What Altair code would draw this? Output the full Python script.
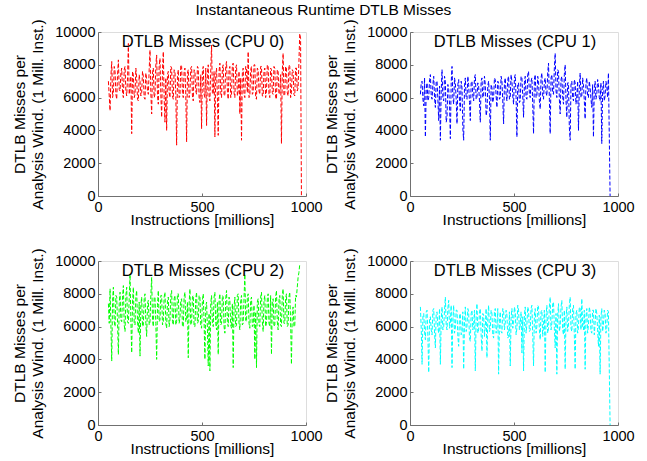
import altair as alt
import pandas as pd

# Samples: "a" arrays at x = 50, 58, 66, ... ; "b" arrays at x = 54, 62, 70, ... (millions of instr.)
XA_START, XB_START, X_STEP = 50, 54, 8

cpu0_a = [7000, 5200, 8200, 6300, 7600, 5900, 8300, 6400, 7800, 6000, 7900, 6100, 9300, 6600, 3800, 7400,
          6200, 7200, 5800, 7000, 6300, 7300, 5900, 7100, 6200, 8900, 5000, 7800, 6200, 8600, 5600, 8400,
          4800, 8800, 4500, 4000, 7600, 6000, 7800, 5900, 7600, 3100, 7700, 6100, 7900, 6000, 7800, 3300,
          7700, 6300, 7900, 5800, 7600, 6200, 7800, 5700, 4100, 7900, 6000, 4300, 8000, 5800, 9200, 6200,
          3600, 7800, 3700, 8100, 6000, 8000, 6100, 8200, 5900, 7900, 6200, 8100, 6000, 8000, 6400, 5000,
          3400, 7800, 6000, 7800, 8800, 6100, 7900, 6300, 8000, 5900, 7700, 6200, 7900, 6100, 7800, 6400,
          7900, 6000, 7700, 6200, 7800, 5900, 7600, 6300, 3200, 8700, 6200, 7800, 6100, 7900, 6300, 7600,
          6100, 7800, 6600, 9900, 0]
cpu0_b = [6100, 7300, 6000, 7900, 6200, 7400, 6500, 7500, 6300, 7700, 6400, 7200, 6200, 7300, 7600, 6000,
          7800, 5900, 7400, 6100, 7600, 6000, 7500, 6400, 7700, 6300, 7600, 6000, 8000, 6100, 7900, 6200,
          7700, 6000, 7200, 7400, 6300, 7900, 6100, 7700, 6200, 7300, 6000, 8000, 6300, 7600, 6200, 7500,
          6000, 7800, 6100, 7700, 6400, 7900, 6000, 7400, 7600, 6200, 7800, 7500, 6100, 7700, 6300, 7600,
          7400, 6000, 7600, 6300, 7800, 6200, 7900, 6400, 7700, 6000, 8000, 6300, 7800, 6100, 7600, 7200,
          7500, 6200, 7900, 6300, 6000, 7700, 6200, 8000, 6000, 7800, 6400, 7900, 6100, 7600, 6000, 8000,
          6200, 7800, 6300, 7900, 6000, 7700, 6200, 7400, 7600, 6100, 7900, 6300, 8000, 6000, 7700, 6200,
          7800, 6400, 8200, 9600]

cpu1_a = [6200, 7000, 5500, 3600, 6900, 6000, 7400, 5900, 7300, 5400, 7000, 4600, 3400, 7700, 5800, 7000,
          4800, 6500, 3500, 7900, 5600, 6900, 4400, 7100, 5200, 6600, 3400, 7200, 5900, 6800, 4600, 7000,
          5800, 7400, 6000, 6700, 4500, 7200, 6100, 6800, 5200, 7000, 3400, 6600, 6000, 7100, 5400, 6900,
          6000, 7000, 4400, 7200, 5800, 7300, 6000, 7000, 5600, 7400, 3600, 6900, 5800, 7200, 4800, 7300,
          5900, 7600, 6000, 7200, 3800, 7400, 6100, 7000, 5300, 7500, 5900, 7200, 6100, 8100, 3800, 7400,
          6200, 8700, 6000, 7600, 5000, 7300, 5600, 8000, 4800, 6900, 3400, 7000, 5800, 6900, 6100, 4000,
          7500, 6100, 6800, 4700, 7200, 6000, 6600, 5400, 3600, 7000, 6200, 6800, 5800, 3200, 7000, 6100,
          6700, 7500, 0]
cpu1_b = [6900, 5900, 7200, 6500, 5800, 7100, 6100, 6800, 6000, 7000, 5900, 6700, 6400, 6000, 7300, 4500,
          6800, 5600, 6900, 6000, 7200, 5900, 6800, 5800, 7000, 4100, 6700, 6000, 7300, 5700, 6900, 6100,
          7200, 5900, 6900, 5800, 7000, 6000, 7300, 4900, 6700, 5900, 6800, 5700, 7200, 6100, 7000, 5900,
          7300, 5800, 6900, 6200, 7100, 5900, 7400, 6100, 7200, 6000, 6800, 5700, 7300, 6100, 6900, 6000,
          7400, 6200, 7000, 5600, 7100, 6000, 7300, 5800, 7200, 6100, 7000, 6300, 7500, 5900, 7200, 6300,
          7800, 6400, 7700, 5900, 7100, 6000, 7400, 5800, 6900, 4200, 6800, 6000, 7100, 5600, 7000, 6600,
          6000, 7200, 5800, 6900, 6100, 7000, 5900, 6800, 6500, 5900, 7100, 6000, 6900, 6400, 5800, 7000,
          6000]

cpu2_a = [7400, 8300, 3900, 8400, 6000, 7800, 4300, 8100, 6300, 8500, 5700, 8400, 6200, 9200, 4400, 8400,
          6100, 8200, 5600, 4200, 7800, 6100, 8000, 5400, 7600, 6300, 9000, 6000, 7800, 4000, 8200, 6400,
          7900, 6300, 8100, 5900, 7800, 6400, 8200, 6100, 7900, 6300, 8000, 6500, 7700, 6000, 8100, 6400,
          4100, 8300, 6200, 7900, 6000, 8100, 6300, 7800, 5900, 8000, 4000, 7500, 3600, 3300, 7900, 6000,
          8100, 5800, 4300, 8000, 6200, 7800, 5600, 8200, 6000, 7600, 5900, 3500, 7800, 6100, 8000, 5800,
          7900, 6200, 9200, 6300, 8000, 5900, 7800, 6100, 4000, 3500, 7700, 6000, 8100, 5700, 7900, 6200,
          8000, 6000, 4300, 7700, 6100, 8200, 5800, 7900, 6000, 8300, 6200, 8000, 6100, 8100, 3700, 7200,
          6000, 7800, 9000, 9800]
cpu2_b = [6200, 6100, 7600, 6300, 7900, 6200, 7400, 6400, 7800, 6100, 7900, 6300, 7700, 6400, 7500, 6200,
          7800, 6300, 7500, 7300, 6000, 7700, 6200, 7400, 6100, 7900, 6400, 7800, 6200, 7300, 6300, 7900,
          6100, 7800, 6200, 7600, 6000, 7900, 6300, 7700, 6100, 8000, 6200, 7600, 6000, 7800, 6300, 7500,
          7400, 6100, 7800, 6000, 7700, 6200, 7900, 6100, 7600, 6300, 7200, 5900, 6800, 7400, 6200, 7800,
          6200, 7500, 7600, 6100, 7900, 6000, 7700, 6300, 7800, 6100, 7400, 7200, 6000, 7900, 6200, 7600,
          6100, 7700, 6400, 7800, 6200, 7600, 6000, 7300, 6900, 7500, 6100, 7800, 6300, 7600, 6000, 7700,
          6200, 7900, 7500, 6000, 7800, 6300, 7600, 6100, 7900, 6200, 7700, 6000, 7800, 6300, 6800, 6000,
          7900, 8400, 9300]

cpu3_a = [7200, 3700, 6800, 5200, 7000, 3200, 6600, 5500, 7100, 4700, 6900, 5600, 3700, 7200, 6000, 7800,
          5800, 7600, 6200, 3500, 7300, 5900, 7000, 4800, 6800, 5700, 3400, 7200, 6000, 6900, 5100, 7000,
          6100, 3300, 7400, 5800, 7100, 4500, 6700, 6000, 4100, 7300, 5900, 6800, 5300, 7100, 6000, 3100,
          6900, 5600, 7000, 6200, 6700, 5400, 3600, 7100, 6200, 6900, 5900, 7000, 6100, 4400, 3300, 7200,
          6100, 7000, 5800, 7300, 3600, 7100, 6000, 7200, 5200, 7000, 6100, 3200, 7300, 5900, 7800, 6200,
          7500, 4700, 3100, 7400, 6000, 7600, 5500, 3400, 7200, 6100, 7800, 5700, 7300, 3400, 7000, 6000,
          7100, 7700, 5800, 3400, 7100, 6100, 6900, 5600, 7000, 6200, 6800, 4800, 3100, 7100, 6100, 6800,
          5900, 6900, 0]
cpu3_b = [5900, 6600, 5700, 6900, 5400, 6500, 5800, 7000, 5600, 6800, 5900, 7100, 6400, 5800, 7000, 6100,
          7100, 5900, 7300, 6400, 5600, 7000, 5400, 6700, 5500, 6900, 6300, 5700, 7100, 5300, 6800, 5800,
          7000, 6600, 5600, 6900, 5500, 6800, 5400, 7100, 6500, 5700, 7000, 5500, 6900, 5600, 7100, 6300,
          5700, 7100, 5800, 7000, 5300, 6900, 6500, 5900, 7200, 5500, 7300, 5800, 6900, 6600, 6700, 5600,
          7200, 5700, 7100, 5500, 6700, 5600, 7300, 5800, 6900, 5400, 7000, 6600, 5600, 7200, 5800, 7400,
          5900, 6800, 6700, 5700, 7200, 5800, 7000, 6500, 5700, 7300, 5900, 7100, 5500, 6800, 5600, 7200,
          5800, 6000, 7000, 6600, 5600, 7200, 5700, 7000, 5500, 7100, 5800, 6700, 6600, 5700, 7000, 5600,
          7000]

series = [
    (cpu0_a, cpu0_b, "#FF0000", "DTLB Misses (CPU 0)"),
    (cpu1_a, cpu1_b, "#0000FF", "DTLB Misses (CPU 1)"),
    (cpu2_a, cpu2_b, "#00FF00", "DTLB Misses (CPU 2)"),
    (cpu3_a, cpu3_b, "#00FFFF", "DTLB Misses (CPU 3)"),
]

x_ticks = [0, 500, 1000]
y_ticks = [0, 2000, 4000, 6000, 8000, 10000]

FONT = "Liberation Sans"
W, H = 208, 164
AXIS_GRAY = "#707070"


def panel(va, vb, color, title):
    da = pd.DataFrame({"x": [XA_START + X_STEP * i for i in range(len(va))], "y": va})
    db = pd.DataFrame({"x": [XB_START + X_STEP * i for i in range(len(vb))], "y": vb})
    df = pd.concat([da, db]).sort_values("x").reset_index(drop=True)
    xs = alt.Scale(domain=[0, 1000], nice=False, zero=False)
    ys = alt.Scale(domain=[0, 10000], nice=False)
    line = alt.Chart(df).mark_line(
        color=color, strokeDash=[4, 2], strokeWidth=1, clip=True
    ).encode(
        x=alt.X("x:Q", scale=xs, axis=alt.Axis(
            values=x_ticks, title="Instructions [millions]", grid=False, format="d",
            tickSize=0, labelPadding=4, titlePadding=-1,
            domainColor=AXIS_GRAY, labelColor="black", titleColor="black",
            labelFont=FONT, titleFont=FONT, labelFontSize=14.5, titleFontSize=15.5,
            titleFontWeight="normal", labelFlush=False)),
        y=alt.Y("y:Q", scale=ys, axis=alt.Axis(
            values=y_ticks, title=["DTLB Misses per", "Analysis Wind. (1 Mill. Inst.)"],
            grid=False, tickSize=0, labelPadding=3, titlePadding=9, format="d",
            titleLineHeight=18,
            domainColor=AXIS_GRAY, labelColor="black", titleColor="black",
            labelFont=FONT, titleFont=FONT, labelFontSize=14.5, titleFontSize=15.5,
            titleFontWeight="normal", labelFlush=False)),
        order="x:Q",
    )
    ticks = alt.Chart(df).mark_line(opacity=0).encode(
        x=alt.X("x:Q", scale=xs, axis=alt.Axis(
            orient="top", offset=-H, values=x_ticks, labels=False, domain=False,
            title=None, grid=False, tickSize=3, tickColor=AXIS_GRAY)),
        y=alt.Y("y:Q", scale=ys, axis=alt.Axis(
            orient="right", offset=-W, values=y_ticks, labels=False, domain=False,
            title=None, grid=False, tickSize=3, tickColor=AXIS_GRAY)),
    )
    txt = alt.Chart(pd.DataFrame({"t": [title]})).mark_text(
        font=FONT, fontSize=16.5, color="black", baseline="middle", align="center"
    ).encode(text="t:N", x=alt.value(W / 2 + 1), y=alt.value(9.5))
    return alt.layer(line, ticks, txt).resolve_axis(
        x="independent", y="independent"
    ).properties(width=W, height=H)


p = [panel(*s) for s in series]
chart = alt.concat(*p, columns=2, spacing={"row": 65, "column": 104}, bounds="flush").properties(
    title=alt.TitleParams("Instantaneous Runtime DTLB Misses", font=FONT, fontSize=15.5,
                          fontWeight="normal", color="black", anchor="middle", offset=0),
    padding={"left": 12, "top": 2, "right": 5, "bottom": 5},
).configure_view(strokeOpacity=0, strokeWidth=0).configure(background="white")

chart.save("out.html", embed_options={"renderer": "svg", "actions": False})
